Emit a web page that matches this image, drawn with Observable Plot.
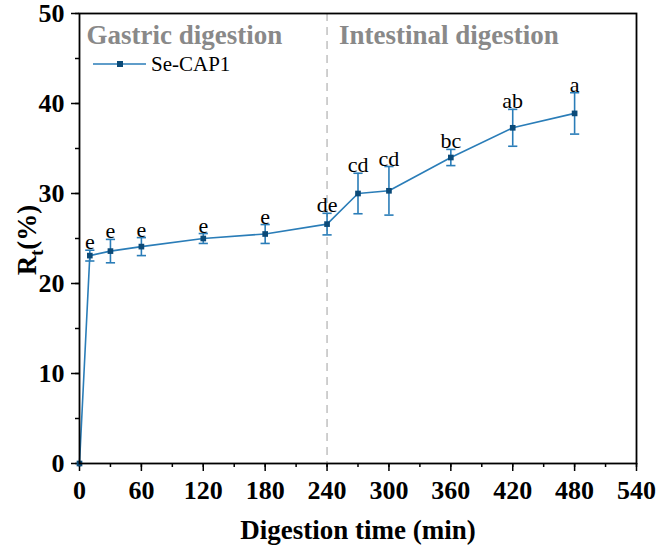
<!DOCTYPE html>
<html><head><meta charset="utf-8">
<script src="https://cdn.jsdelivr.net/npm/d3@7"></script>
<script src="https://cdn.jsdelivr.net/npm/@observablehq/plot@0.6"></script>
<style>
body{margin:0;background:#fff}
#chart{position:relative;width:662px;height:554px}
</style>
</head><body><div id="chart"></div>
<script>
// ---- data ----
const times   = [0, 10, 30, 60, 120, 180, 240, 270, 300, 360, 420, 480];
const values  = [0, 23.1, 23.6, 24.1, 25.0, 25.5, 26.6, 30.0, 30.3, 34.0, 37.3, 38.9];
const errors  = [0, 0.6, 1.3, 1.0, 0.55, 1.05, 1.2, 2.25, 2.7, 0.9, 2.05, 2.3];
const letters = ["", "e", "e", "e", "e", "e", "de", "cd", "cd", "bc", "ab", "a"];
const xTicks = [0, 60, 120, 180, 240, 300, 360, 420, 480, 540];
const xMinor = [0, 30, 60, 90, 120, 150, 180, 210, 240, 270, 300, 330, 360, 390, 420, 450, 480, 510, 540];
const yTicks = [0, 10, 20, 30, 40, 50];
const yMinor = [0, 5, 10, 15, 20, 25, 30, 35, 40, 45, 50];
const phaseNames = ["Gastric digestion", "Intestinal digestion"];
const phaseStart = [0, 240];
const seriesName = "Se-CAP1";
const xLabel = "Digestion time (min)";

const LINE = "#2a7db8", MARK = "#0b4a78";
const FONT = "'Liberation Serif','Times New Roman',serif";

const rows = times.map((t, i) => ({t, v: values[i], e: errors[i], lo: values[i] - errors[i], hi: values[i] + errors[i], lab: letters[i]}));
const errRows = rows.filter(d => d.e > 0);
const capSymbol = {draw(ctx, size) { const w = Math.sqrt(size); ctx.moveTo(-w, 0); ctx.lineTo(w, 0); }};

const chart = Plot.plot({
  width: 662, height: 554,
  marginLeft: 79, marginRight: 26, marginTop: 13, marginBottom: 91,
  style: {fontFamily: FONT, background: "#fff", overflow: "visible"},
  x: {domain: [0, 540]},
  y: {domain: [0, 50]},
  marks: [
    Plot.ruleX([240], {stroke: "#c4c4c4", strokeWidth: 1.6, strokeDasharray: "8,6"}),
    Plot.axisX({ticks: xMinor, tickSize: 4, tickFormat: () => "", strokeWidth: 1.5, label: null}),
    Plot.axisX({ticks: xTicks, tickSize: 8, tickPadding: 9, fontSize: 26, fontWeight: "bold", strokeWidth: 1.5, label: null, fill: "#000"}),
    Plot.axisY({ticks: yMinor, tickSize: 4, tickFormat: () => "", strokeWidth: 1.5, label: null}),
    Plot.axisY({ticks: yTicks, tickSize: 8, tickPadding: 7, fontSize: 26, fontWeight: "bold", strokeWidth: 1.5, label: null, fill: "#000"}),
    Plot.ruleX(errRows, {x: "t", y1: "lo", y2: "hi", stroke: LINE, strokeWidth: 1.6}),
    Plot.dot(errRows, {x: "t", y: "lo", symbol: capSymbol, r: 2.6, stroke: LINE, strokeWidth: 1.6, fill: "none"}),
    Plot.dot(errRows, {x: "t", y: "hi", symbol: capSymbol, r: 2.6, stroke: LINE, strokeWidth: 1.6, fill: "none"}),
    Plot.line(rows, {x: "t", y: "v", stroke: LINE, strokeWidth: 1.6}),
    Plot.dot(rows, {x: "t", y: "v", symbol: "square", r: 3.2, fill: MARK, stroke: "none"}),
    Plot.text(errRows, {x: "t", y: "hi", text: "lab", lineAnchor: "bottom", dy: -1, fontSize: 22, fill: "#000"}),
    Plot.text([phaseNames[0]], {x: phaseStart[0], y: 50, textAnchor: "start", lineAnchor: "middle", dx: 7, dy: 22, fontSize: 27, fontWeight: "bold", fill: "#898989"}),
    Plot.text([phaseNames[1]], {x: phaseStart[1], y: 50, textAnchor: "start", lineAnchor: "middle", dx: 12, dy: 22, fontSize: 27, fontWeight: "bold", fill: "#898989"}),
    Plot.frame({stroke: "#000", strokeWidth: 1.8})
  ]
});

const svg = d3.select(chart);
// legend
const lg = svg.append("g").attr("transform", "translate(93,64)");
lg.append("line").attr("x1", 0).attr("x2", 53).attr("y1", 0).attr("y2", 0).attr("stroke", LINE).attr("stroke-width", 1.6);
lg.append("rect").attr("x", 24).attr("y", -3).attr("width", 6).attr("height", 6).attr("fill", MARK);
lg.append("text").attr("x", 58).attr("y", 0).attr("dy", "0.35em").attr("text-anchor", "start")
  .attr("font-size", 21).attr("font-family", FONT).attr("fill", "#000").text(seriesName);
// y axis title with subscript
const yt = svg.append("text").attr("transform", "translate(36,240) rotate(-90)")
  .attr("text-anchor", "middle").attr("font-size", 27).attr("font-weight", "bold").attr("font-family", FONT).attr("fill", "#000");
yt.append("tspan").text("R");
yt.append("tspan").attr("font-size", 18).attr("dy", 7).text("t");
yt.append("tspan").attr("dy", -7).text("(%)");
// x axis title
svg.append("text").attr("x", 358).attr("y", 539).attr("text-anchor", "middle").attr("font-size", 27)
  .attr("font-weight", "bold").attr("font-family", FONT).attr("fill", "#000").text(xLabel);

document.getElementById("chart").appendChild(chart);
</script>
</body></html>
